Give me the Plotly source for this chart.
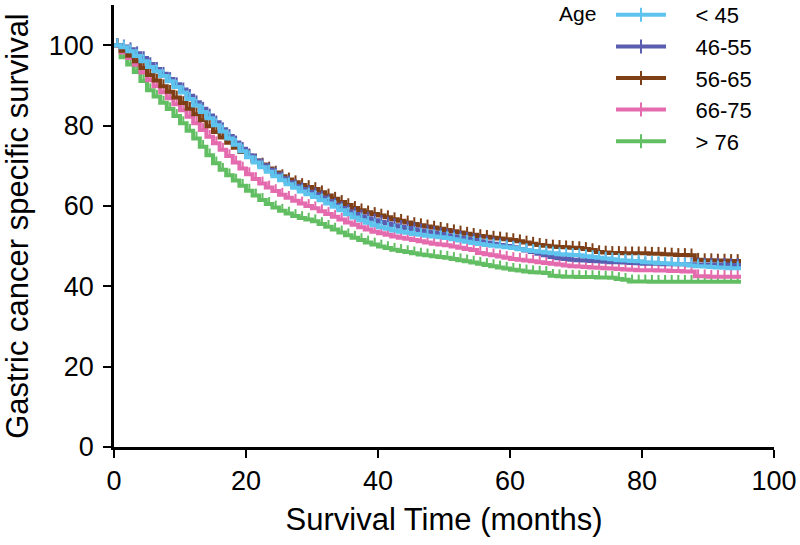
import plotly.graph_objects as go

months = list(range(0, 96))

age_lt45 = [100, 99.5, 98.5, 97.3, 96, 94.6, 93.5, 92.3, 91, 89.6,
            88.2, 86.6, 85, 83.4, 81.8, 80.1, 78.5, 76.8, 75.2, 73.6,
            72.1, 70.8, 69.6, 68.5, 67.4, 66.4, 65.4, 64.5, 63.6, 62.9,
            62.2, 61.4, 60.6, 59.8, 58.9, 57.9, 57.1, 56.4, 55.8, 55.2,
            54.7, 54.3, 53.9, 53.6, 53.3, 53.0, 52.8, 52.6, 52.4, 52.2,
            52.0, 51.7, 51.4, 51.1, 50.8, 50.5, 50.3, 50.1, 49.9, 49.7,
            49.5, 49.2, 49.0, 48.8, 48.6, 48.4, 48.2, 48.0, 47.9, 47.8,
            47.7, 47.5, 47.3, 47.1, 46.9, 46.7, 46.5, 46.4, 46.3, 46.2,
            46.0, 45.9, 45.8, 45.7, 45.6, 45.5, 45.4, 45.2, 45.0, 44.9,
            44.8, 44.7, 44.6, 44.5, 44.5, 44.5]

age_46_55 = [100, 99.7, 99, 98, 96.8, 95.3, 94.1, 92.9, 91.6, 90.3,
             89, 87.4, 85.8, 84.2, 82.5, 80.8, 79.1, 77.4, 75.8, 74.2,
             72.6, 71.3, 70.1, 69, 67.9, 66.9, 65.9, 65, 64.2, 63.5,
             62.9, 62.1, 61.2, 60.3, 59.5, 58.7, 58, 57.4, 56.9, 56.4,
             56, 55.6, 55.2, 54.8, 54.5, 54.2, 53.9, 53.6, 53.3, 53,
             52.7, 52.4, 52.1, 51.8, 51.5, 51.2, 50.9, 50.6, 50.3, 50,
             49.7, 49.3, 48.9, 48.5, 48.1, 47.7, 47.3, 47, 46.8, 46.6,
             46.5, 46.4, 46.3, 46.2, 46.1, 46, 46, 45.9, 45.8, 45.7,
             45.6, 45.6, 45.6, 45.5, 45.5, 45.5, 45.5, 45.5, 45.4, 45.4,
             45.4, 45.4, 45.4, 45.3, 45.3, 45.3]

age_56_65 = [100, 98.6, 97.4, 96, 94.3, 92.6, 91.2, 89.8, 88.4, 87,
             85.6, 84.2, 82.8, 81.3, 79.8, 78.4, 77, 75.7, 74.5, 73.4,
             72.4, 71.3, 70.3, 69.3, 68.3, 67.4, 66.6, 65.9, 65.2, 64.7,
             64.2, 63.4, 62.6, 61.8, 61, 60.2, 59.5, 58.9, 58.4, 58,
             57.6, 57.2, 56.7, 56.3, 55.9, 55.5, 55.2, 54.9, 54.6, 54.3,
             54, 53.7, 53.4, 53.1, 52.8, 52.5, 52.3, 52.1, 51.9, 51.7,
             51.5, 51.2, 50.9, 50.6, 50.3, 50.1, 49.9, 49.8, 49.7, 49.6,
             49.5, 49.3, 49, 48.5, 48.4, 48.3, 48.3, 48.2, 48.2, 48.2,
             48.2, 48.1, 48.1, 48, 47.9, 47.8, 47.8, 47.7, 46.6, 46.5,
             46.5, 46.4, 46.4, 46.3, 46.3, 46.3]

age_66_75 = [100, 98.2, 96.8, 95.1, 93.2, 91.3, 89.8, 88.3, 86.8, 85.3,
             83.8, 82.2, 80.6, 78.9, 77.2, 75.6, 74, 72.4, 70.8, 69.3,
             67.9, 66.7, 65.6, 64.6, 63.7, 62.8, 62, 61.3, 60.6, 60,
             59.4, 58.7, 58, 57.3, 56.6, 55.9, 55.3, 54.7, 54.1, 53.6,
             53.2, 52.8, 52.4, 52.1, 51.8, 51.5, 51.2, 50.9, 50.6, 50.4,
             50.2, 49.9, 49.6, 49.3, 49, 48.3, 48, 47.7, 47.4, 47.1,
             46.8, 46.6, 46.4, 46.2, 46, 45.8, 45.6, 45.4, 45.2, 45,
             44.9, 44.8, 44.7, 44.6, 44.5, 44.4, 44.3, 44.2, 44.1, 44,
             44, 44, 43.9, 43.9, 43.8, 43.8, 43.7, 43.7, 42.5, 42.5,
             42.4, 42.4, 42.4, 42.4, 42.4, 42.4]

age_gt76 = [100, 97, 95.2, 93.3, 91.1, 88.8, 87.2, 85.7, 84.1, 82.4,
            80.6, 78.7, 76.8, 74.7, 72.6, 70.6, 69, 67.6, 66.3, 65,
            63.8, 62.6, 61.5, 60.5, 59.6, 58.8, 58.1, 57.5, 57, 56.6,
            56.2, 55.5, 54.8, 54.1, 53.4, 52.7, 52.1, 51.5, 50.9, 50.4,
            49.9, 49.5, 49.1, 48.8, 48.5, 48.2, 47.9, 47.7, 47.5, 47.3,
            47.1, 46.8, 46.5, 46.2, 45.9, 45.6, 45.3, 45, 44.7, 44.4,
            44.1, 43.9, 43.7, 43.5, 43.4, 43.3, 42.6, 42.5, 42.4, 42.4,
            42.3, 42.3, 42.3, 42.2, 42.2, 42.1, 41.8, 41.6, 41.2, 41.2,
            41.2, 41.1, 41.1, 41.1, 41.1, 41.1, 41.1, 41.1, 41.1, 41.1,
            41.1, 41.1, 41.1, 41.1, 41.1, 41.1]

group_names = ["< 45", "46-55", "56-65", "66-75", "> 76"]
group_values = [age_lt45, age_46_55, age_56_65, age_66_75, age_gt76]
group_colors = ["#5EC4EE", "#5A5DB0", "#7E3F17", "#E46BAD", "#62BE62"]

x_ticks = [0, 20, 40, 60, 80, 100]
y_ticks = [0, 20, 40, 60, 80, 100]

FONT = "Arial, Liberation Sans, Helvetica, sans-serif"

fig = go.Figure()

# draw from last group to first so that "< 45" ends up on top
for name, vals, col in reversed(list(zip(group_names, group_values, group_colors))):
    fig.add_trace(go.Scatter(
        x=months, y=vals, mode="lines", line=dict(color=col, width=4, shape="hv"),
        showlegend=False, hoverinfo="skip"))
    cx = [m + 0.5 for m in months[:-1]]
    cy = vals[:-1]
    fig.add_trace(go.Scatter(
        x=cx, y=cy, mode="markers", marker=dict(size=1, color=col, opacity=0),
        error_y=dict(type="constant", value=1.7, valueminus=0, symmetric=False,
                     color=col, thickness=2, width=0),
        showlegend=False, hoverinfo="skip"))

for name, col in zip(group_names, group_colors):
    fig.add_trace(go.Scatter(
        x=[None], y=[None], mode="lines+markers", name="\u00a0\u00a0\u00a0\u00a0" + name,
        line=dict(color=col, width=4),
        marker=dict(symbol="line-ns-open", size=10, color=col, line=dict(color=col, width=2))))

fig.update_layout(
    width=800, height=545,
    margin=dict(l=114, r=26, t=5, b=98, autoexpand=False),
    paper_bgcolor="white", plot_bgcolor="white",
    font=dict(family=FONT, color="black"),
    showlegend=True,
    legend=dict(xref="paper", yref="paper", x=(611 - 114) / 660, y=(447 + 6) / 442,
                xanchor="left", yanchor="top", font=dict(size=22, family=FONT),
                itemwidth=50, bgcolor="rgba(0,0,0,0)", tracegroupgap=0),
    annotations=[dict(text="Age", xref="paper", yref="paper",
                      x=(557 - 114) / 660, y=(447 - 13) / 442, xanchor="left", yanchor="middle",
                      showarrow=False, font=dict(size=21, family=FONT))],
)

fig.update_xaxes(
    range=[0, 100], tickvals=x_ticks, ticktext=[str(v) for v in x_ticks],
    showline=True, linecolor="black", linewidth=2.5, ticks="outside", ticklen=8,
    tickwidth=2, tickcolor="black", showgrid=False, zeroline=False,
    tickfont=dict(size=27), title=dict(text="Survival Time (months)", font=dict(size=31), standoff=14),
)
fig.update_yaxes(
    range=[0, 110], tickvals=y_ticks, ticktext=[str(v) for v in y_ticks],
    showline=True, linecolor="black", linewidth=2.5, ticks="outside", ticklen=8,
    tickwidth=2, tickcolor="black", showgrid=False, zeroline=False,
    tickfont=dict(size=27), ticklabelstandoff=4,
    title=dict(text="Gastric cancer specific survival", font=dict(size=31), standoff=14),
)

fig.write_html("out.html", config={"displayModeBar": False},
               post_script="document.body.style.margin='0px';")
